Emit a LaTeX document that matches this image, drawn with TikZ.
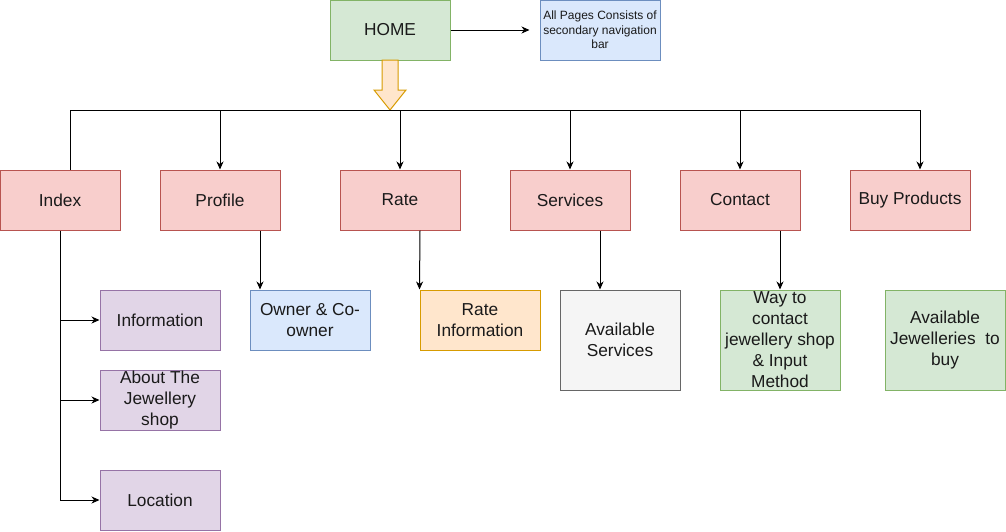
\documentclass[tikz,border=0pt]{standalone}
\usepackage{fontspec}
\setmainfont{Liberation Sans}
\usetikzlibrary{arrows.meta,calc}
\definecolor{gfill}{HTML}{D5E8D4}\definecolor{gdraw}{HTML}{82B366}
\definecolor{bfill}{HTML}{DAE8FC}\definecolor{bdraw}{HTML}{6C8EBF}
\definecolor{rfill}{HTML}{F8CECC}\definecolor{rdraw}{HTML}{B85450}
\definecolor{pfill}{HTML}{E1D5E7}\definecolor{pdraw}{HTML}{9673A6}
\definecolor{ofill}{HTML}{FFE6CC}\definecolor{odraw}{HTML}{D79B00}
\definecolor{sfill}{HTML}{F5F5F5}\definecolor{sdraw}{HTML}{666666}
\definecolor{txt}{HTML}{1A1A1A}
\tikzset{
  box/.style={draw, line width=1pt, minimum width=120pt, minimum height=60pt, inner sep=0pt,
    align=center, text=txt, font=\fontsize{17.3pt}{21pt}\selectfont},
  tall/.style={minimum height=100pt},
  green/.style={box, fill=gfill, draw=gdraw},
  blue/.style={box, fill=bfill, draw=bdraw},
  red/.style={box, fill=rfill, draw=rdraw},
  purple/.style={box, fill=pfill, draw=pdraw},
  orange/.style={box, fill=ofill, draw=odraw},
  grey/.style={box, fill=sfill, draw=sdraw, text=txt},
  conn/.style={line width=1pt, black},
  arr/.style={conn, -{Stealth[length=8pt,width=7pt,inset=2.5pt]}},
}
\begin{document}
\begin{tikzpicture}[x=1pt,y=-1pt]
\useasboundingbox (0,0) rectangle (1006,531);
% top
\node[green] (home) at (390,30) {HOME};
\node[blue, font=\fontsize{12pt}{14.5pt}\selectfont] (note) at (600,30) {All Pages Consists of\\secondary navigation\\bar};
\draw[arr] (home.east) -- ([xshift=-10pt]note.west);
% block arrow
\draw[line width=1pt, draw=odraw, fill=ofill, line join=miter]
  (382,60) -- (398,60) -- (398,90) -- (406,90) -- (390,110) -- (374,90) -- (382,90) -- cycle;
% second row
\node[red] (idx) at (60,200) {Index};
\node[red] (prof) at (220,200) {Profile};
\node[red] (rate) at (400,200) {Rate};
\node[red] (serv) at (570,200) {Services};
\node[red] (cont) at (740,200) {Contact};
\node[red] (buy) at (910,200) {Buy Products};
% bus
\coordinate (busL) at (70,110);
\coordinate (busR) at (920,110);
\draw[conn] (busL) -- (busR);
\draw[conn] (busL) -- (busL |- idx.north);
\draw[arr] (prof.north |- busL) -- (prof.north);
\draw[arr] (rate.north |- busL) -- (rate.north);
\draw[arr] (serv.north |- busL) -- (serv.north);
\draw[arr] (cont.north |- busL) -- (cont.north);
\draw[arr] (busR) -- (busR |- buy.north);
% third row
\node[purple] (info) at (160,320) {Information};
\node[purple] (about) at (160,400) {About The\\Jewellery\\shop};
\node[purple] (loc) at (160,500) {Location};
\node[blue] (own) at (310,320) {Owner \& Co-\\owner};
\node[orange] (ratei) at (480,320) {Rate\\Information};
\node[grey, tall] (avs) at (620,340) {Available\\Services};
\node[green, tall] (way) at (780,340) {Way to\\contact\\jewellery shop\\\& Input\\Method};
\node[green, tall] (avj) at (945,340) {Available\\Jewelleries\ \ to\\buy};
% index branch
\draw[arr] (idx.south) |- (loc.west);
\draw[arr] (idx.south |- info.west) -- (info.west);
\draw[arr] (idx.south |- about.west) -- (about.west);
% other connectors
\draw[arr] ([xshift=40pt]prof.south) -- ([xshift=-50pt]own.north);
\draw[arr] ([xshift=20pt]rate.south) -- (ratei.north west);
\draw[arr] ([xshift=30pt]serv.south) -- ([xshift=-20pt]avs.north);
\draw[arr] ([xshift=40pt]cont.south) -- (way.north);
\end{tikzpicture}
\end{document}
